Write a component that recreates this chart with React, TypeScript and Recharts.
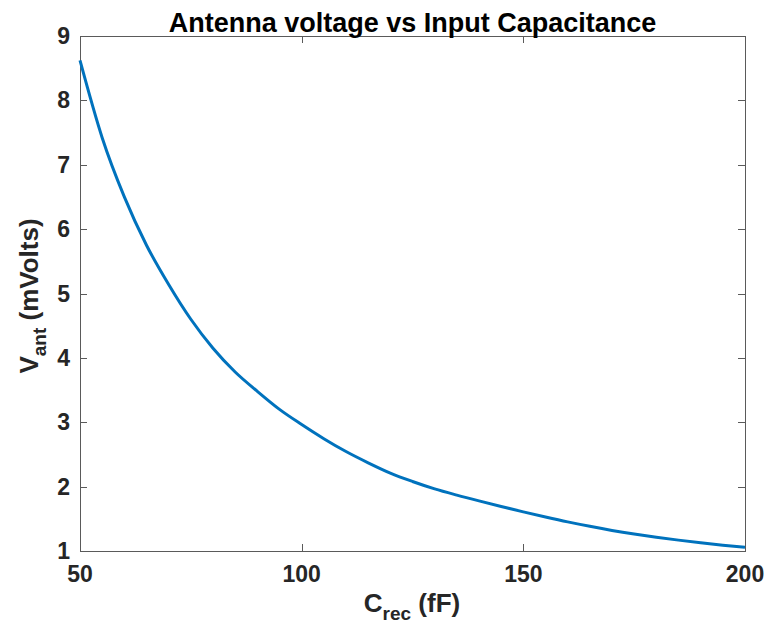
import React from 'react';
import { LineChart, Line, XAxis, YAxis, ReferenceArea } from 'recharts';

// Capacitance (fF) and antenna voltage (mV)
const capacitance = [
  50, 55, 60, 65, 70, 75, 80, 85, 90, 95, 100, 105, 110, 115, 120, 125, 130, 135,
  140, 145, 150, 155, 160, 165, 170, 175, 180, 185, 190, 195, 200,
];
const voltage = [
  8.62, 7.42, 6.5, 5.75, 5.14, 4.6, 4.15, 3.78, 3.48, 3.2, 2.965, 2.745, 2.545,
  2.37, 2.21, 2.08, 1.965, 1.868, 1.778, 1.692, 1.608, 1.528, 1.452, 1.383, 1.32,
  1.264, 1.214, 1.169, 1.128, 1.091, 1.057,
];
const xDomain = [50, 200];
const yDomain = [1, 9];
const xTicks = [50, 100, 150, 200];
const yTicks = [1, 2, 3, 4, 5, 6, 7, 8, 9];

const TITLE = 'Antenna voltage vs Input Capacitance';

const W = 765;
const H = 628;
// plot box edges (px)
const PLOT = { left: 80, top: 36, right: 745, bottom: 551 };

const FONT = '"Liberation Sans", Arial, Helvetica, sans-serif';
const AXIS_COLOR = '#5a5a5a';
const TEXT_COLOR = '#262626';
const TICK_LEN = 7;

const data = capacitance.map((c, i) => ({ c, v: voltage[i] }));

// x position of an x tick inside the fixed plot box (tick marks only)
const xTickPx = (v: number) =>
  Math.round(
    PLOT.left + ((v - xDomain[0]) / (xDomain[1] - xDomain[0])) * (PLOT.right - PLOT.left)
  );

const BottomTick = (props: any) => {
  const { x, payload } = props;
  return (
    <text
      x={x}
      y={PLOT.bottom + 31}
      textAnchor="middle"
      fontFamily={FONT}
      fontWeight="bold"
      fontSize={23}
      fill={TEXT_COLOR}
    >
      {payload.value}
    </text>
  );
};

// MATLAB-style ticks point into the plot area on all four sides.
// The x tick marks are drawn here too: the y-axis layer sits above the plot.
const LeftTick = (props: any) => {
  const { y, payload } = props;
  const py = Math.round(y);
  const isBottom = payload.value === yTicks[0];
  const isTop = payload.value === yTicks[yTicks.length - 1];
  return (
    <g>
      <rect x={PLOT.left} y={py} width={TICK_LEN} height={1} fill={AXIS_COLOR} />
      <rect x={PLOT.right - TICK_LEN} y={py} width={TICK_LEN} height={1} fill={AXIS_COLOR} />
      {isBottom &&
        xTicks.map((t) => (
          <rect
            key={`b${t}`}
            x={xTickPx(t)}
            y={PLOT.bottom - TICK_LEN}
            width={1}
            height={TICK_LEN}
            fill={AXIS_COLOR}
          />
        ))}
      {isTop &&
        xTicks.map((t) => (
          <rect
            key={`t${t}`}
            x={xTickPx(t)}
            y={PLOT.top}
            width={1}
            height={TICK_LEN}
            fill={AXIS_COLOR}
          />
        ))}
      <text
        x={PLOT.left - 10}
        y={y + 8}
        textAnchor="end"
        fontFamily={FONT}
        fontWeight="bold"
        fontSize={23}
        fill={TEXT_COLOR}
      >
        {payload.value}
      </text>
    </g>
  );
};

export default function App() {
  return (
    <div style={{ position: 'absolute', left: 0, top: 0, background: '#fff' }}>
      <LineChart
        width={W}
        height={H}
        data={data}
        margin={{ top: PLOT.top, right: W - PLOT.right, left: 0, bottom: 0 }}
      >
        <XAxis
          dataKey="c"
          type="number"
          domain={xDomain}
          ticks={xTicks}
          height={H - PLOT.bottom}
          tickSize={0}
          tickMargin={0}
          tickLine={false}
          axisLine={false}
          tick={<BottomTick />}
          label={{
            content: () => (
              <g>
                <text
                  x={(PLOT.left + PLOT.right) / 2}
                  y={32}
                  textAnchor="middle"
                  fontFamily={FONT}
                  fontWeight="bold"
                  fontSize={27}
                  fill="#000"
                >
                  {TITLE}
                </text>
                <text
                  x={412}
                  y={612}
                  textAnchor="middle"
                  fontFamily={FONT}
                  fontWeight="bold"
                  fontSize={26}
                  fill={TEXT_COLOR}
                >
                  <tspan>C</tspan>
                  <tspan dy={8} fontSize={19}>rec</tspan>
                  <tspan dy={-8}> (fF)</tspan>
                </text>
              </g>
            ),
          }}
        />
        <YAxis
          type="number"
          domain={yDomain}
          ticks={yTicks}
          width={PLOT.left}
          tickSize={0}
          tickMargin={0}
          tickLine={false}
          axisLine={false}
          tick={<LeftTick />}
          label={{
            content: () => (
              <text
                x={38}
                y={296}
                transform="rotate(-90 38 296)"
                textAnchor="middle"
                fontFamily={FONT}
                fontWeight="bold"
                fontSize={26}
                fill={TEXT_COLOR}
              >
                <tspan>V</tspan>
                <tspan dy={8} fontSize={19}>ant</tspan>
                <tspan dy={-8}> (mVolts)</tspan>
              </text>
            ),
          }}
        />
        <ReferenceArea
          x1={xDomain[0]}
          x2={xDomain[1]}
          y1={yDomain[0]}
          y2={yDomain[1]}
          fill="none"
          fillOpacity={0}
          stroke={AXIS_COLOR}
          strokeWidth={1}
          shapeRendering="crispEdges"
        />
        <Line
          dataKey="v"
          type="monotone"
          stroke="#0072BD"
          strokeWidth={3}
          dot={false}
          isAnimationActive={false}
        />
      </LineChart>
    </div>
  );
}
